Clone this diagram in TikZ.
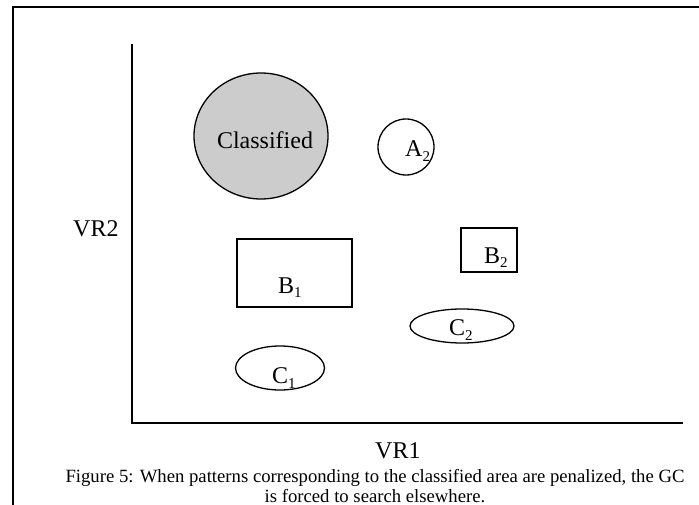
\documentclass[tikz,border=0pt]{standalone}
\usepackage{fontspec}
\setmainfont{Liberation Serif}
\usetikzlibrary{shapes.geometric}
% letter with a lowered, smaller index
\newcommand\sublbl[2]{#1\raisebox{-5pt}{\fontsize{15}{15}\selectfont #2}}
\begin{document}
\begin{tikzpicture}[x=1pt,y=-1pt,
  region/.style={draw=black, line width=1.3pt, inner sep=0pt, outer sep=0pt},
  oval/.style={region, ellipse},
  box/.style={region, rectangle},
  lbl/.style={inner sep=0pt, anchor=base west, font=\fontsize{24}{28}\selectfont},
  axis/.style={line width=1.4pt},
  frameline/.style={line width=2pt},
]
\useasboundingbox (0,0) rectangle (699,505);

% page frame
\coordinate (fbl) at (13,505);
\coordinate (ftl) at (13,7);
\coordinate (ftr) at (699,7);
\draw[frameline] (fbl) -- (ftl) -- (ftr);

% axes
\coordinate (ytop) at (132,44);
\coordinate (orig) at (132,423);
\coordinate (xend) at (683,423);
\draw[axis] (ytop) -- (orig) -- (xend);
\node[lbl] (vr2) at (73,237) {VR2};
\node[lbl] (vr1) at (375,458) {VR1};

% regions in the plane
\node[oval, fill=black!20, minimum width=134pt, minimum height=126pt] (cls) at (261,136) {};
\node[inner sep=0pt, anchor=base, font=\fontsize{24}{28}\selectfont] (clst) at (265,149) {Classified};

\node[oval, minimum width=56pt, minimum height=56pt] (a2) at (406,147) {};
\node[lbl] (a2t) at (405,157) {\sublbl{A}{2}};

\node[box, minimum width=115pt, minimum height=68pt] (b1) at (294.5,273) {};
\node[lbl] (b1t) at (278,293) {\sublbl{B}{1}};

\node[box, minimum width=56pt, minimum height=44pt] (b2) at (489,250) {};
\node[lbl] (b2t) at (484,263) {\sublbl{B}{2}};

\node[oval, minimum width=104pt, minimum height=34pt] (c2) at (462,326) {};
\node[lbl] (c2t) at (449,335) {\sublbl{C}{2}};

\node[oval, minimum width=89pt, minimum height=44pt] (c1) at (280,368) {};
\node[lbl] (c1t) at (272,383) {\sublbl{C}{1}};

% caption (anchored on the baseline of its last line)
\node[inner sep=0pt, anchor=base, align=center, font=\fontsize{18.7}{19.5}\selectfont] (cap) at (375,502)
  {Figure 5: When patterns corresponding to the classified area are penalized, the GC\\is forced to search elsewhere.};
\end{tikzpicture}
\end{document}
